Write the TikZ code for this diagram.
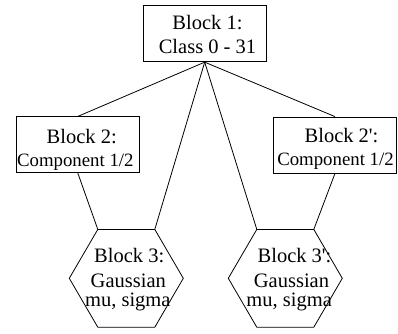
\documentclass[tikz,border=0pt]{standalone}
\usepackage{fontspec}
\setmainfont{Liberation Serif}
% straight apostrophe (bypasses the TeX quote mapping)
\newcommand{\apos}{\ifnum\XeTeXglyphindex "quotesingle" >0 \XeTeXglyph\XeTeXglyphindex "quotesingle" \relax\else\symbol{"2032}\fi}
\begin{document}
\begin{tikzpicture}[x=1pt,y=-1pt,
  line width=0.8pt,
  blockbox/.style={draw, rectangle, inner sep=0pt},
  head/.style={anchor=base, inner sep=0pt, font=\fontsize{20.5}{24}\selectfont},
  sub/.style={anchor=base, inner sep=0pt, font=\fontsize{18.8}{24}\selectfont}]
  \useasboundingbox (0,0) rectangle (398,333);

  % rectangular blocks
  \node[blockbox, minimum width=122.7pt, minimum height=56.7pt] (b1)  at (204.7,33.4) {};
  \node[blockbox, minimum width=123.3pt, minimum height=55.5pt] (b2)  at (77.7,144.6) {};
  \node[blockbox, minimum width=123.3pt, minimum height=56pt]   (b2p) at (335,145) {};

  \node[head] (b1a)  at (207.5,29.3)  {Block 1:};
  \node[head] (b1b)  at (207.5,53.3)  {Class 0 - 31};
  \node[head] (b2a)  at (81.7,143.3)  {Block 2:};
  \node[sub]  (b2b)  at (75.3,166.6)  {Component 1/2};
  \node[head] (b2pa) at (341.5,142.8) {Block 2\apos:};
  \node[sub]  (b2pb) at (335.5,165.8) {Component 1/2};

  % hexagonal blocks (regular, flat top)
  \foreach \n/\cx in {h1/126.3, h2/285.3} {
    \coordinate (\n tl) at (\cx-28.5,229.4);
    \coordinate (\n tr) at (\cx+28.5,229.4);
    \coordinate (\n r)  at (\cx+57,278.3);
    \coordinate (\n br) at (\cx+28.5,327.2);
    \coordinate (\n bl) at (\cx-28.5,327.2);
    \coordinate (\n l)  at (\cx-57,278.3);
    \draw (\n tl) -- (\n tr) -- (\n r) -- (\n br) -- (\n bl) -- (\n l) -- cycle;
  }
  \node[head] (h1a) at (129.2,262.3) {Block 3:};
  \node[head] (h1b) at (128.3,287.5) {Gaussian};
  \node[head] (h1c) at (127.8,306.8) {mu, sigma};
  \node[head] (h2a) at (294.5,262.3) {Block 3\apos:};
  \node[head] (h2b) at (291.5,287.5) {Gaussian};
  \node[head] (h2c) at (289.2,306.8) {mu, sigma};

  % connectors
  \draw (b1.south) -- (b2.north);
  \draw (b1.south) -- (b2p.north);
  \draw (b1.south) -- (h1tr);
  \draw (b1.south) -- (h2tl);
  \draw (b2.south) -- (h1tl);
  \draw (b2p.south) -- (h2tr);
\end{tikzpicture}
\end{document}
